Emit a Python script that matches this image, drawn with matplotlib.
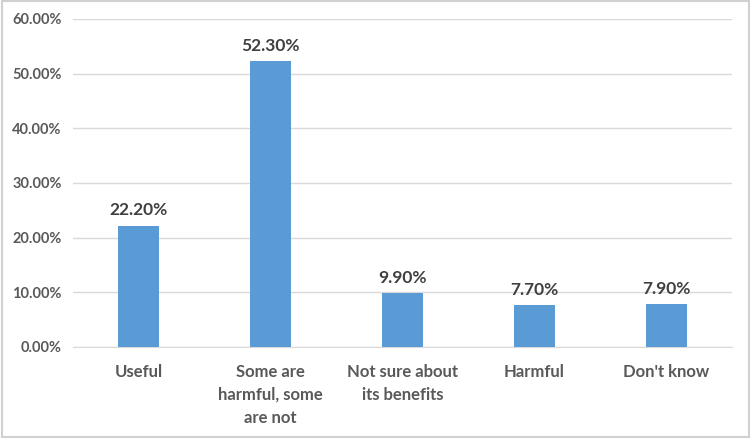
import matplotlib
matplotlib.use("Agg")
import matplotlib.pyplot as plt
from matplotlib.ticker import FuncFormatter, MultipleLocator
from matplotlib.patches import Rectangle

# data
categories = ["Useful", "Some are\nharmful, some\nare not", "Not sure about\nits benefits",
              "Harmful", "Don't know"]
values = [22.2, 52.3, 9.9, 7.7, 7.9]

# Lato is close to Calibri
plt.rcParams['font.family'] = ['Lato', 'DejaVu Sans']

fig = plt.figure(figsize=(7.5, 4.38), dpi=100)
ax = fig.add_axes([0.097, 0.208, 0.879, 0.749])

x = range(len(categories))
bars = ax.bar(x, values, width=0.31, color='#5B9BD5', zorder=3)

for b, v in zip(bars, values):
    ax.text(b.get_x() + b.get_width() / 2, v + 1.3, f"{v:.2f}%",
            ha='center', va='bottom', fontsize=12.5, fontweight='bold', color='#404040')

ax.set_ylim(0, 60)
ax.set_xlim(-0.5, len(categories) - 0.5)
ax.yaxis.set_major_locator(MultipleLocator(10))
ax.yaxis.set_major_formatter(FuncFormatter(lambda v, p: f"{v:.2f}%"))
ax.grid(axis='y', color='#D9D9D9', linewidth=1, zorder=0)

ax.set_xticks(list(x))
ax.set_xticklabels(categories, fontsize=12, color='#595959', fontweight='bold',
                   linespacing=1.55)
for lbl in ax.get_yticklabels():
    lbl.set_fontsize(10.5)
    lbl.set_color('#595959')
    lbl.set_fontweight('bold')

ax.tick_params(axis='both', length=0)
ax.tick_params(axis='x', pad=12)
ax.tick_params(axis='y', pad=8)
for s in ['top', 'right', 'left']:
    ax.spines[s].set_visible(False)
ax.spines['bottom'].set_color('#D9D9D9')

# light border around the whole chart
fig.patches.append(Rectangle((0.002, 0.003), 0.996, 0.994, transform=fig.transFigure,
                             fill=False, edgecolor='#D0D0D0', linewidth=1.5))

fig.savefig("out.png", dpi=100)
